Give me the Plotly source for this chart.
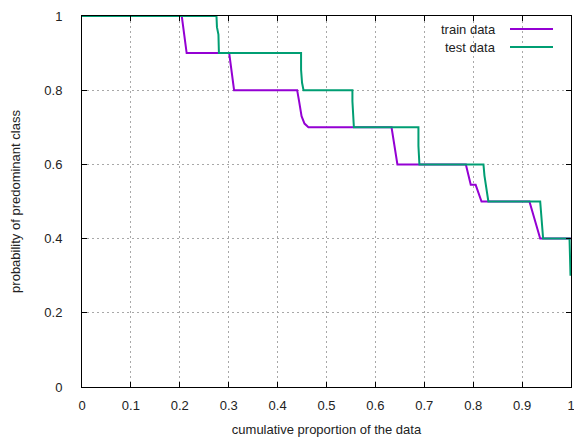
import plotly.graph_objects as go

# ---- data ----
train_x = [0, 0.204, 0.214, 0.301, 0.311, 0.440, 0.444, 0.449, 0.455, 0.463,
           0.633, 0.645, 0.785, 0.795, 0.805, 0.817, 0.915, 0.937, 1.0]
train_y = [1, 1, 0.9, 0.9, 0.8, 0.8, 0.77, 0.73, 0.71, 0.7,
           0.7, 0.6, 0.6, 0.545, 0.545, 0.5, 0.5, 0.4, 0.4]

test_x = [0, 0.275, 0.276, 0.279, 0.280, 0.448, 0.448, 0.450, 0.453,
          0.553, 0.553, 0.556, 0.688, 0.688, 0.690,
          0.821, 0.823, 0.826, 0.829, 0.831,
          0.937, 0.939, 0.941, 0.943, 0.997, 0.998, 0.999]
test_y = [1, 1, 0.97, 0.95, 0.9, 0.9, 0.855, 0.82, 0.8,
          0.8, 0.77, 0.7, 0.7, 0.65, 0.6,
          0.6, 0.57, 0.545, 0.52, 0.5,
          0.5, 0.47, 0.43, 0.4, 0.4, 0.36, 0.3]

series_names = ["train data", "test data"]
series_colors = ["#9400D3", "#009E73"]

x_ticks = [0, 0.1, 0.2, 0.3, 0.4, 0.5, 0.6, 0.7, 0.8, 0.9, 1]
x_tick_labels = ["0", "0.1", "0.2", "0.3", "0.4", "0.5", "0.6", "0.7", "0.8", "0.9", "1"]
y_ticks = [0, 0.2, 0.4, 0.6, 0.8, 1]
y_tick_labels = ["0", "0.2", "0.4", "0.6", "0.8", "1"]

FONT = "Liberation Sans, Arial, sans-serif"
TXT = "#222222"

W, H = 574, 437
L, R, T, B = 82, 3, 16, 50
PW, PH = W - L - R, H - T - B

fig = go.Figure()
for xs, ys, name, col in [(train_x, train_y, series_names[0], series_colors[0]),
                          (test_x, test_y, series_names[1], series_colors[1])]:
    fig.add_trace(go.Scatter(x=xs, y=ys, mode="lines", name=name,
                             line=dict(color=col, width=2), showlegend=False))

axis_common = dict(
    showline=True, linecolor="#000000", linewidth=1, mirror="ticks",
    ticks="inside", ticklen=5, tickcolor="#000000", tickwidth=1,
    showgrid=True, gridcolor="#a8a8a8", griddash="2px,3px", gridwidth=1,
    zeroline=False, automargin=False, ticklabeloverflow="allow",
    tickfont=dict(family=FONT, size=13, color=TXT),
)

fig.update_xaxes(range=[0, 1], tickvals=x_ticks, ticktext=x_tick_labels,
                 ticklabelstandoff=6,
                 title=dict(text="cumulative proportion of the data",
                            font=dict(family=FONT, size=13, color=TXT), standoff=22),
                 **axis_common)
fig.update_yaxes(range=[0, 1], tickvals=y_ticks, ticktext=y_tick_labels,
                 ticklabelstandoff=16,
                 title=dict(text="probability of predominant class",
                            font=dict(family=FONT, size=13, color=TXT), standoff=20),
                 **axis_common)

# legend (gnuplot style: text right-aligned, sample line to the right)
leg_y = [29, 47]            # pixel rows in figure coordinates
for i, (name, col) in enumerate(zip(series_names, series_colors)):
    ypaper = 1 - (leg_y[i] - T) / PH
    fig.add_annotation(x=(498 - L) / PW, y=ypaper, xref="paper", yref="paper",
                       text=name, showarrow=False, xanchor="right", yanchor="middle",
                       font=dict(family=FONT, size=13, color=TXT))
    fig.add_shape(type="line", xref="paper", yref="paper",
                  x0=(510 - L) / PW, x1=(553 - L) / PW, y0=ypaper, y1=ypaper,
                  line=dict(color=col, width=2))

fig.update_layout(
    width=W, height=H,
    margin=dict(l=L, r=R, t=T, b=B, autoexpand=False),
    paper_bgcolor="white", plot_bgcolor="white",
    font=dict(family=FONT, size=13, color=TXT),
)

fig.write_html(
    "out.html",
    config={"displayModeBar": False},
    post_script="document.body.style.margin='0';document.body.style.overflow='hidden';"
                "document.documentElement.style.overflow='hidden';",
)
